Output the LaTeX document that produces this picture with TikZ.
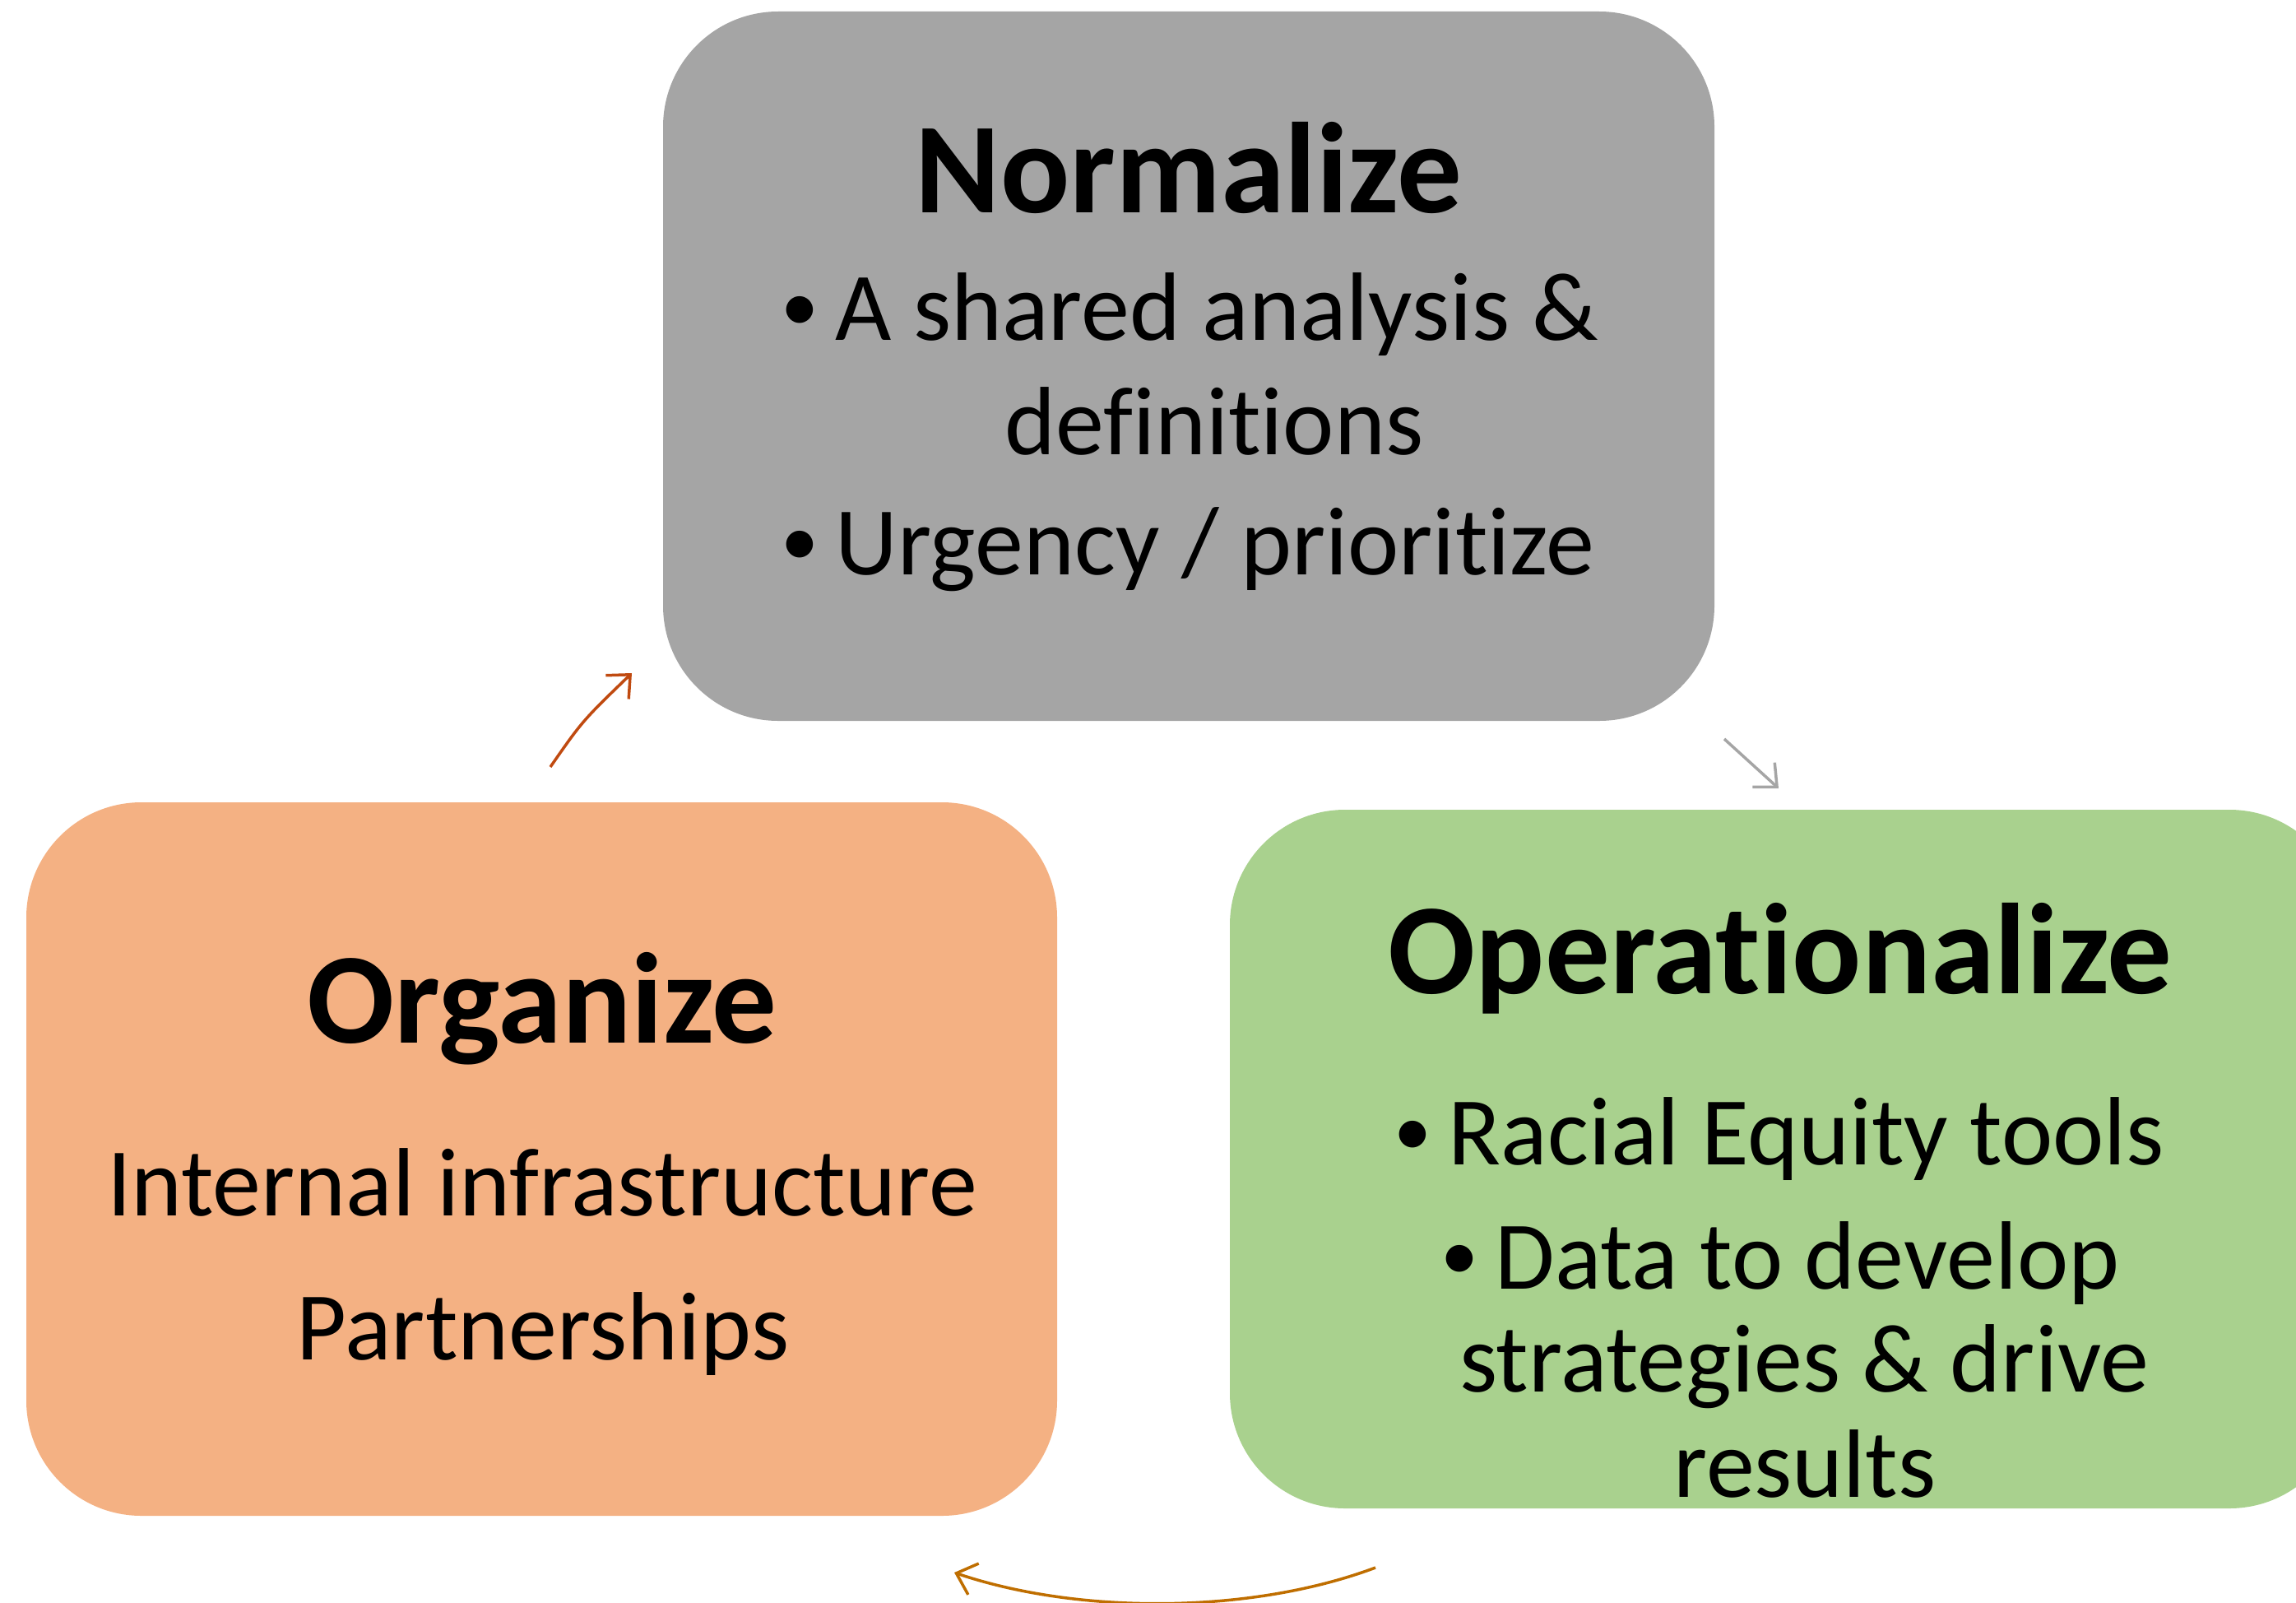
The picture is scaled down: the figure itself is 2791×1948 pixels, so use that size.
\documentclass[tikz,border=0pt]{standalone}
\usepackage{fontspec}
\setmainfont{Carlito}[RawFeature={-liga}]
\usetikzlibrary{arrows.meta}
\definecolor{boxgray}{HTML}{A5A5A5}
\definecolor{boxorange}{HTML}{F4B183}
\definecolor{boxgreen}{HTML}{A9D18E}
\definecolor{arrred}{HTML}{C04A10}
\definecolor{arrbrown}{HTML}{BF6E00}
\definecolor{arrgray}{HTML}{A5A5A5}
\newcommand\mybul{{\fontsize{92}{92}\selectfont\raisebox{11pt}{\textbullet}}\hspace{20pt}}
\tikzset{
  box/.style={rounded corners=140pt, draw=none},
  title/.style={anchor=base, inner sep=0pt, font=\fontsize{157}{188}\selectfont\bfseries},
  body/.style={anchor=base, inner sep=0pt, font=\fontsize{118}{142}\selectfont},
  cyc/.style={line width=3.5pt, -{Straight Barb[length=22pt,width=40pt,line width=3.5pt]}},
}
\begin{document}
\begin{tikzpicture}[x=1pt,y=-1pt]
\useasboundingbox (0,0) rectangle (2791,1948);
\clip (0,0) rectangle (2791,1948);
% boxes
\fill[box, boxgray] (806,14) rectangle (2084,876);
\fill[box, boxorange] (32,975) rectangle (1285,1842);
\fill[box, boxgreen] (1495,984) rectangle (2850,1833);
% Normalize
\node[title] (ntitle) at (1445,258) {Normalize};
\node[body] (n1) at (1446,413) {\mybul A shared analysis \&};
\node[body] (n2) at (1476,552) {definitions};
\node[body] (n3) at (1444,698) {\mybul Urgency / prioritize};
% Organize
\node[title] (otitle) at (659,1267) {Organize};
\node[body] (o1) at (659,1477) {Internal infrastructure};
\node[body] (o2) at (660,1652) {Partnerships};
% Operationalize
\node[title] (optitle) at (2164,1207) {Operationalize};
\node[body] (op1) at (2163,1415) {\mybul Racial Equity tools};
\node[body] (op2) at (2164,1566) {\mybul Data to develop};
\node[body] (op3) at (2193,1691) {strategies \& drive};
\node[body] (op4) at (2194,1819) {results};
% arrows
\coordinate (a1s) at (669,932);
\coordinate (a1e) at (768,818);
\coordinate (a2s) at (2096,898);
\coordinate (a2e) at (2162,958);
\coordinate (a3s) at (1672,1905);
\coordinate (a3e) at (1160,1911);
\draw[cyc, arrred] (a1s) .. controls (708,876) .. (a1e);
\draw[cyc, arrgray] (a2s) -- (a2e);
\draw[cyc, arrbrown] (a3s) .. controls (1520,1962) and (1310,1962) .. (a3e);
\end{tikzpicture}
\end{document}
